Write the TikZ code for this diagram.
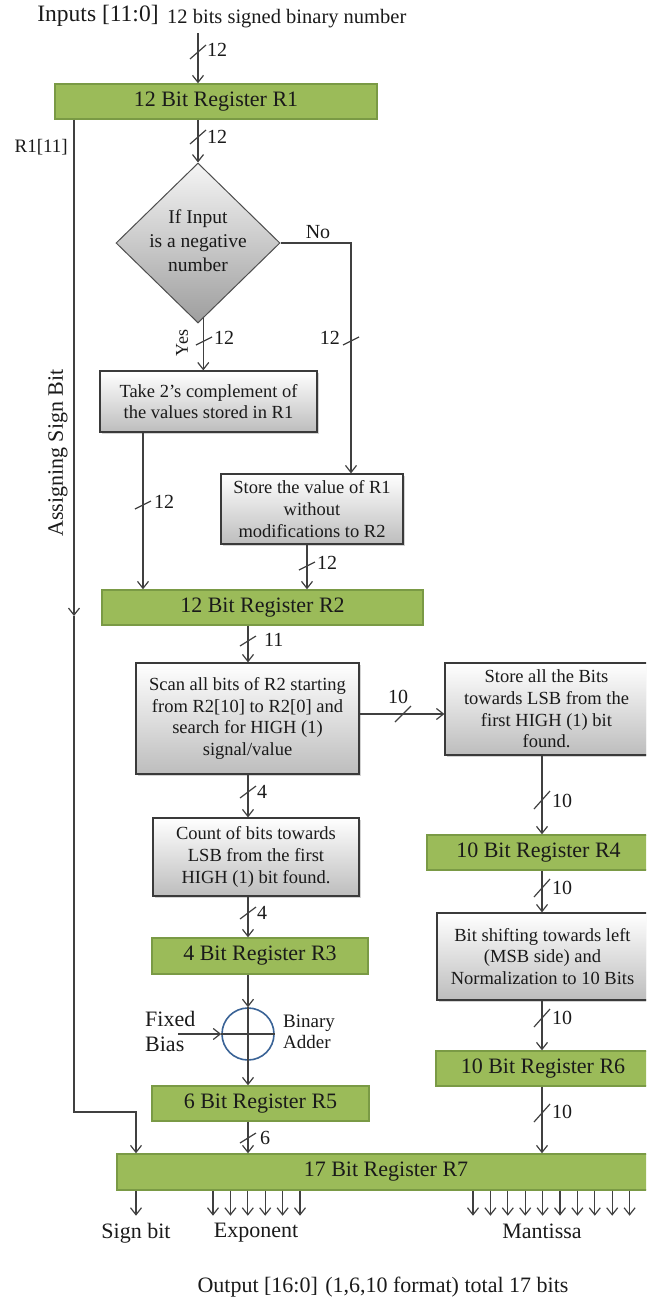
\documentclass[tikz,border=0pt]{standalone}
\usepackage{fontspec}
\setmainfont{Liberation Serif}
\usetikzlibrary{arrows.meta,shapes.geometric,shadows,calc}
\definecolor{regfill}{HTML}{9BBB59}
\definecolor{regdraw}{HTML}{7A9A45}
\definecolor{linec}{HTML}{404040}
\definecolor{boxdraw}{HTML}{3A3A3A}
\definecolor{boxbot}{HTML}{BDBDBD}
\definecolor{addc}{HTML}{3A6396}
\definecolor{txt}{HTML}{1A1A1A}
\begin{document}
\begin{tikzpicture}[x=1pt,y=-1pt,
  ln/.style={draw=linec,line width=1.2pt},
  arr/.style={ln,-{Straight Barb[length=7pt,width=11pt,line width=1.2pt]}},
  reg/.style={rectangle,fill=regfill,draw=regdraw,line width=1.4pt,inner sep=0pt,font=\fontsize{22}{26}\selectfont,text=txt},
  gbox/.style={rectangle,draw=boxdraw,line width=1.2pt,top color=white,bottom color=boxbot,inner sep=0pt,align=center,font=\fontsize{18.5}{21.8}\selectfont,text=txt,drop shadow={shadow xshift=1.5pt,shadow yshift=-1.5pt,opacity=0.35}},
  dec/.style={diamond,draw=boxdraw!90,line width=1pt,top color=black!4,bottom color=black!38,inner sep=0pt,minimum width=164pt,minimum height=160pt},
  dtext/.style={align=center,font=\fontsize{19.5}{24}\selectfont,text=txt},
  lbl/.style={font=\fontsize{20}{24}\selectfont,text=txt,inner sep=0pt},
  big/.style={font=\fontsize{22}{25}\selectfont,text=txt,inner sep=0pt},
  adder/.style={circle,draw=addc,line width=1.6pt,minimum size=52pt,inner sep=0pt},
  slash/.pic={\draw[ln] (-8,#1) -- (8,-#1);},
]
\useasboundingbox (0,0) rectangle (646,1301);
\clip (0,0) rectangle (646,1301);

% titles
\node[big,font=\fontsize{23.5}{26}\selectfont] (tin) at (98,16) {Inputs [11:0]};
\node[big,font=\fontsize{20.5}{24}\selectfont,anchor=west] (tdesc) at (167,19) {12 bits signed binary number};

% nodes
\node[reg,minimum width=322pt,minimum height=35pt] (R1) at (216,101.5) {12 Bit Register R1};
\node[dec] (dia) at (198,243) {};
\node[dtext] (diat) at (198,241) {If Input\\is a negative\\number};
\node[gbox,minimum width=217pt,minimum height=61pt] (take) at (208.5,401.5) {Take 2’s complement of\\the values stored in R1};
\node[gbox,minimum width=182pt,minimum height=70pt] (store) at (312,509) {Store the value of R1\\without\\modifications to R2};
\node[reg,minimum width=321pt,minimum height=35pt] (R2) at (262.5,607.5) {12 Bit Register R2};
\node[gbox,minimum width=223pt,minimum height=111pt] (scan) at (247.5,718.5) {Scan all bits of R2 starting\\from R2[10] to R2[0] and\\search for HIGH (1)\\signal/value};
\node[gbox,minimum width=203pt,minimum height=92pt] (sall) at (546.5,709) {Store all the Bits\\towards LSB from the\\first HIGH (1) bit\\found.};
\node[gbox,minimum width=206pt,minimum height=78pt] (count) at (256,857) {Count of bits towards\\LSB from the first\\HIGH (1) bit found.};
\node[reg,minimum width=216pt,minimum height=36pt] (R3) at (260,956) {4 Bit Register R3};
\node[adder] (add) at (248,1034) {};
\node[reg,minimum width=217pt,minimum height=35pt] (R5) at (260.5,1103.5) {6 Bit Register R5};
\node[reg,minimum width=223pt,minimum height=35pt] (R4) at (538.5,852.5) {10 Bit Register R4};
\node[gbox,minimum width=211pt,minimum height=87pt] (shift) at (542.5,956.5) {Bit shifting towards left\\(MSB side) and\\Normalization to 10 Bits};
\node[reg,minimum width=214pt,minimum height=35pt] (R6) at (543,1068.5) {10 Bit Register R6};
\node[reg,minimum width=538pt,minimum height=36pt] (R7) at (386,1172) {17 Bit Register R7};

% column coordinates
\coordinate (nx) at (351,0);
\coordinate (tx) at (143,0);
\coordinate (s2x) at (307,0);
\coordinate (mx) at (248,0);
\coordinate (rx) at (542,0);
\coordinate (sx) at (74,0);
\coordinate (sb) at (136,0);
\coordinate (sy) at (0,1112);
\coordinate (hy) at (0,714);
\coordinate (inp) at (198,33);
\coordinate (smid) at (74,616);
\coordinate (bias) at (178,1034);

% connectors
\draw[arr] (inp) -- (R1.north -| inp);
\draw[arr] (R1.south -| dia.north) -- (dia.north);
\draw[arr] (dia.-86) -- (dia.-86 |- take.north);
\draw[arr] (dia.east) -| (store.north -| nx);
\draw[arr] (take.south -| tx) -- (R2.north -| tx);
\draw[arr] (store.south -| s2x) -- (R2.north -| s2x);
\draw[arr] (R2.south -| mx) -- (scan.north -| mx);
\draw[arr] (scan.east |- hy) -- (sall.west |- hy);
\draw[arr] (scan.south -| mx) -- (count.north -| mx);
\draw[arr] (count.south -| mx) -- (R3.north -| mx);
\draw[arr] (R3.south -| mx) -- (add.north);
\draw[arr] (add.south) -- (R5.north -| mx);
\draw[ln] (add.north) -- (add.south) (add.west) -- (add.east);
\draw[arr] (bias) -- (add.west);
\draw[arr] (R5.south -| mx) -- (R7.north -| mx);
\draw[arr] (sall.south -| rx) -- (R4.north -| rx);
\draw[arr] (R4.south -| rx) -- (shift.north -| rx);
\draw[arr] (shift.south -| rx) -- (R6.north -| rx);
\draw[arr] (R6.south -| rx) -- (R7.north -| rx);
\draw[arr] (R1.south -| sx) -- (smid);
\draw[arr] (smid) -- (sx |- sy) -| (R7.north -| sb);

% outputs
\draw[arr] (R7.south -| sb) -- ++(0,25);
\foreach \i in {0,...,5} \draw[arr] (R7.south) ++({213+17.4*\i-386},0) -- ++(0,25);
\foreach \i in {0,...,9} \draw[arr] (R7.south) ++({473+17.4*\i-386},0) -- ++(0,25);

% bus slashes
\pic at (198,52) {slash=7};
\pic at (198,137) {slash=7};
\pic at (204,341) {slash=4};
\pic at (351,341) {slash=4};
\pic at (143,505) {slash=4};
\pic at (307,566) {slash=4};
\pic at (248,641) {slash=5};
\pic at (403,714) {slash=8};
\pic at (248,792) {slash=6};
\pic at (248,913) {slash=6};
\pic at (542,800) {slash=9};
\pic at (542,888) {slash=9};
\pic at (542,1018) {slash=9};
\pic at (542,1113) {slash=9};
\pic at (248,1138) {slash=5};

% labels
\node[lbl,anchor=west] (l1) at (207,50) {12};
\node[lbl,anchor=west] (l2) at (207,137) {12};
\node[lbl,font=\fontsize{19}{22}\selectfont,anchor=east] (r111) at (68,147) {R1[11]};
\node[lbl] (no) at (318,232) {No};
\node[lbl,font=\fontsize{18}{22}\selectfont,rotate=90] (yes) at (182,343) {Yes};
\node[lbl,anchor=west] (l3) at (214,338) {12};
\node[lbl,anchor=east] (l4) at (340,338) {12};
\node[lbl,anchor=west] (l5) at (154,502) {12};
\node[lbl,anchor=west] (l6) at (317,563) {12};
\node[lbl,anchor=west] (l7) at (264,640) {11};
\node[lbl] (l8) at (398,697) {10};
\node[lbl,anchor=west] (l9) at (257,792) {4};
\node[lbl,anchor=west] (l10) at (257,913) {4};
\node[lbl,anchor=west] (l11) at (552,801) {10};
\node[lbl,anchor=west] (l12) at (552,888) {10};
\node[lbl,anchor=west] (l13) at (552,1018) {10};
\node[lbl,anchor=west] (l14) at (552,1112) {10};
\node[lbl,anchor=west] (l15) at (260,1138) {6};
\node[big,align=left,anchor=west,font=\fontsize{22}{25}\selectfont] (fb) at (145,1031) {Fixed\\Bias};
\node[big,align=left,anchor=west,font=\fontsize{19}{21}\selectfont] (ba) at (283,1032) {Binary\\Adder};
\node[big,rotate=90] (asb) at (58,453) {Assigning Sign Bit};
\node[big] (osb) at (136,1233) {Sign bit};
\node[big] (oex) at (256,1233) {Exponent};
\node[big] (oma) at (542,1231) {Mantissa};
\node[big] (out) at (383,1287) {Output [16:0]\,\,(1,6,10 format) total 17 bits};
\end{tikzpicture}
\end{document}
